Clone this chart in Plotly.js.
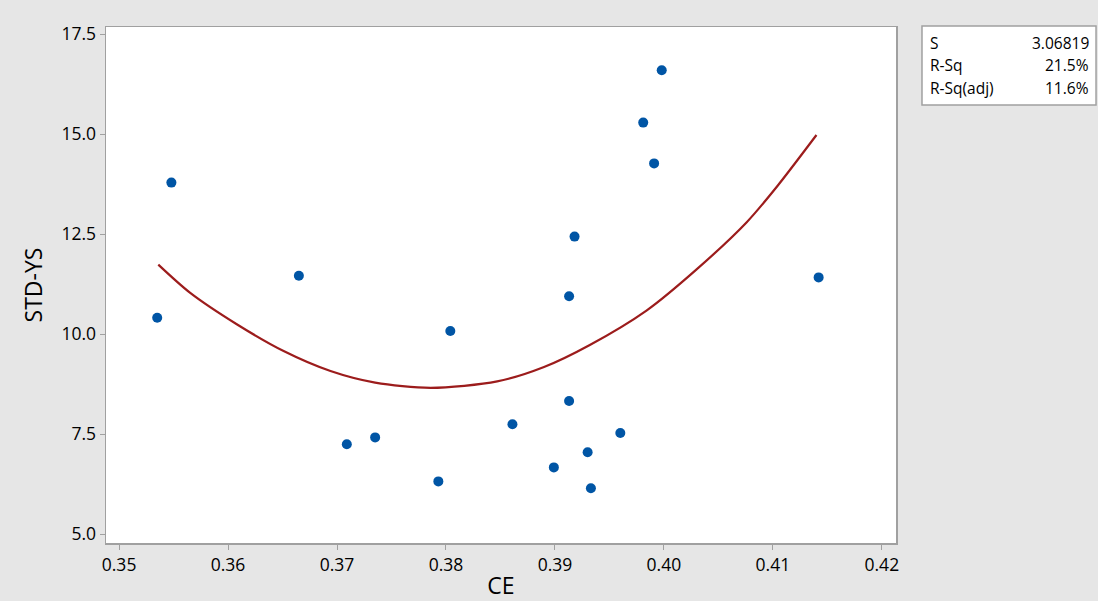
<!DOCTYPE html>
<html>
<head>
<meta charset="utf-8">
<script src="https://cdn.plot.ly/plotly-3.0.1.min.js"></script>
<style>
  html, body { margin: 0; padding: 0; background: #e6e6e6; }
  #chart { width: 1098px; height: 601px; }
</style>
</head>
<body>
<div id="chart"></div>
<script>
// Observed data points
const ceValues = [0.3548, 0.3535, 0.3665, 0.3709, 0.3735, 0.3793, 0.3804, 0.3861, 0.3899, 0.3913, 0.3913, 0.3930, 0.3933, 0.3960, 0.3918, 0.3981, 0.3998, 0.3991, 0.4142];
const stdYsValues = [13.79, 10.41, 11.46, 7.25, 7.42, 6.32, 10.08, 7.75, 6.67, 8.33, 10.95, 7.05, 6.15, 7.53, 12.44, 15.29, 16.60, 14.27, 11.42];

// Fitted quadratic curve
const fitX = [0.3536, 0.3565, 0.3608, 0.3651, 0.3694, 0.3735, 0.3786, 0.3847, 0.3890, 0.3932, 0.3984, 0.4030, 0.4076, 0.4104, 0.4140];
const fitY = [11.74, 11.04, 10.25, 9.58, 9.08, 8.79, 8.66, 8.82, 9.18, 9.73, 10.59, 11.62, 12.80, 13.70, 14.98];

// Summary statistics table
const statLabels = ["S", "R-Sq", "R-Sq(adj)"];
const statValues = ["3.06819", "21.5%", "11.6%"];

// Axis ticks
const xTicks = [0.35, 0.36, 0.37, 0.38, 0.39, 0.40, 0.41, 0.42];
const xTickText = ["0.35", "0.36", "0.37", "0.38", "0.39", "0.40", "0.41", "0.42"];
const yTicks = [5.0, 7.5, 10.0, 12.5, 15.0, 17.5];
const yTickText = ["5.0", "7.5", "10.0", "12.5", "15.0", "17.5"];

const FONT = "Open Sans, Noto Sans, sans-serif";

const traces = [
  {
    x: fitX, y: fitY, type: 'scatter', mode: 'lines',
    line: { color: '#9c1c1c', width: 2.2, shape: 'spline', smoothing: 0.8 },
    hoverinfo: 'skip', showlegend: false
  },
  {
    x: ceValues, y: stdYsValues, type: 'scatter', mode: 'markers',
    marker: { color: '#0055a5', size: 10 },
    showlegend: false
  }
];

const rowY = [0.9685, 0.926, 0.881];
const annotations = [];
statLabels.forEach((lab, i) => {
  annotations.push({
    xref: 'paper', yref: 'paper', x: 1.0405, y: rowY[i],
    xanchor: 'left', yanchor: 'middle', showarrow: false,
    text: lab, font: { family: FONT, size: 15.5, color: '#000' }
  });
  annotations.push({
    xref: 'paper', yref: 'paper', x: 1.2465, y: rowY[i],
    xanchor: 'right', yanchor: 'middle', showarrow: false,
    text: statValues[i], font: { family: FONT, size: 15.5, color: '#000' }
  });
});

const layout = {
  width: 1098, height: 601,
  paper_bgcolor: '#e6e6e6',
  plot_bgcolor: '#ffffff',
  margin: { l: 106, r: 202, t: 27, b: 58, pad: 0 },
  font: { family: FONT, color: '#000' },
  showlegend: false,
  xaxis: {
    range: [0.3488, 0.4213],
    tickvals: xTicks, ticktext: xTickText,
    ticks: 'outside', ticklen: 5, tickcolor: '#a0a0a0', tickwidth: 1,
    showgrid: false, zeroline: false,
    showline: true, linecolor: '#a0a0a0', linewidth: 1.5, mirror: true,
    tickfont: { family: FONT, size: 17.5, color: '#000' },
    title: { text: 'CE', font: { family: FONT, size: 23, color: '#000' }, standoff: 10 }
  },
  yaxis: {
    range: [4.78, 17.68],
    tickvals: yTicks, ticktext: yTickText,
    ticks: 'outside', ticklen: 5, tickcolor: '#a0a0a0', tickwidth: 1,
    showgrid: false, zeroline: false,
    showline: true, linecolor: '#a0a0a0', linewidth: 1.5, mirror: true,
    tickfont: { family: FONT, size: 17.5, color: '#000' },
    title: { text: 'STD-YS', font: { family: FONT, size: 23, color: '#000' }, standoff: 12 }
  },
  shapes: [
    {
      type: 'rect', xref: 'paper', yref: 'paper',
      x0: 1.0329, x1: 1.2532, y0: 0.8488, y1: 1.0019,
      line: { color: '#a0a0a0', width: 1.5 }, fillcolor: '#ffffff', layer: 'below'
    }
  ],
  annotations: annotations
};

Plotly.newPlot('chart', traces, layout, { displayModeBar: false, staticPlot: true });
</script>
</body>
</html>
